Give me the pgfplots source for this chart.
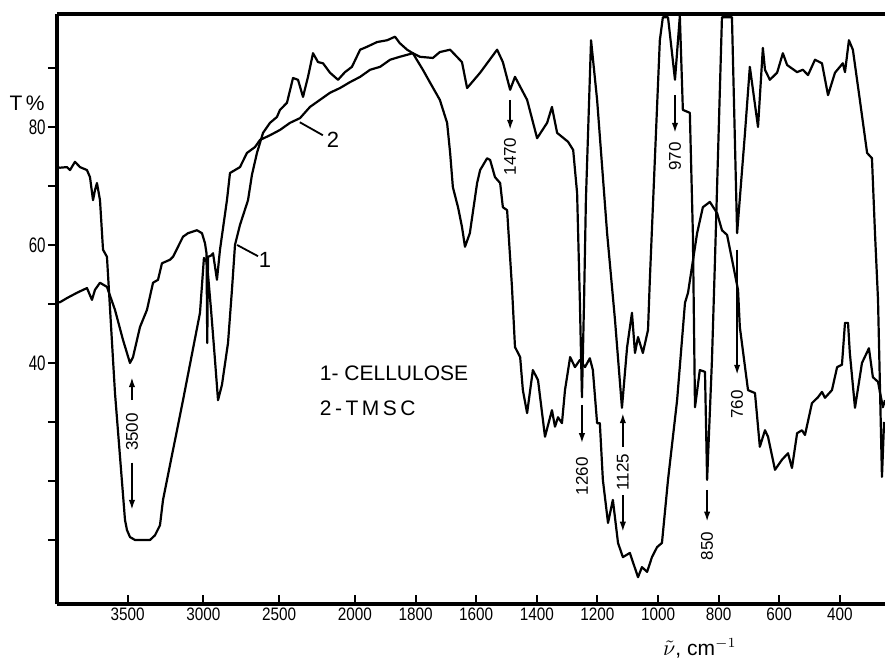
\documentclass[border=0pt]{standalone}
\usepackage{fontspec}
\setmainfont{Liberation Sans}
\newfontfamily\condA[FakeStretch=0.72]{Liberation Sans}
\newfontfamily\condB[FakeStretch=0.85]{Liberation Sans}
\usepackage{pgfplots}
\pgfplotsset{compat=1.18}
\usetikzlibrary{arrows.meta}
\begin{document}
\begin{tikzpicture}
\useasboundingbox (-28.5pt,-28pt) rectangle (414pt,302pt);
\begin{axis}[
  at={(0,0)}, anchor=south west,
  scale only axis, width=414pt, height=295pt,
  xmin=251, xmax=2983.4, ymin=-0.85, ymax=99.15,
  x dir=reverse,
  axis x line*=bottom, axis y line*=left,
  axis line style={-, line width=2pt},
  x filter/.expression={x>2000 ? 2000+(x-2000)/2 : x},
  xtick={2750,2500,2250,2000,1800,1600,1400,1200,1000,800,600,400},
  xticklabels={3500,3000,2500,2000,1800,1600,1400,1200,1000,800,600,400},
  ytick={40,60,80},
  extra y ticks={10,20,30,50,70,90},
  extra y tick labels={},
  xtick align=inside, ytick align=outside,
  major tick length=4.5pt,
  tick style={line width=1pt, black},
  xticklabel style={font=\condB\fontsize{9}{10}\selectfont, yshift=-1pt, inner ysep=1pt},
  yticklabel style={font=\condA\fontsize{10.5}{12}\selectfont, inner xsep=1pt},
  /pgf/number format/assume math mode=true,
  clip=false,
]
\draw[line width=2pt] (rel axis cs:0,1) -- (rel axis cs:1,1);
% curve 1: cellulose
\addplot[black, line width=1.1pt, line join=round, no marks] coordinates {
(3967,73.2) (3947,73.1) (3901,73.2) (3881,72.7) (3848,74.1) (3815,73.2) (3769,72.7) (3749,71.5) (3729,67.6) (3716,69.3) (3703,70.5) (3683,67.6) (3663,59.2) (3637,58.0) (3584,34.9) (3518,13.4) (3505,11.7) (3485,10.5) (3452,10.0) (3353,10.0) (3320,10.8) (3287,12.5) (3267,16.8) (3135,33.7) (3023,48.5) (2997,57.8) (2977,57.1) (2950,49.0) (2924,40.5) (2904,33.7) (2878,36.3) (2838,43.4) (2812,52.4) (2792,60.0) (2759,63.4) (2706,67.6) (2680,71.9) (2647,75.6) (2607,79.0) (2561,80.7) (2515,81.7) (2495,82.9) (2449,84.1) (2409,88.3) (2376,88.0) (2343,85.1) (2310,88.5) (2277,92.5) (2244,91.0) (2211,90.8) (2165,89.2) (2112,88.0) (2066,89.3) (2020,90.2) (1983,93.1) (1960,93.6) (1927,94.4) (1894,94.7) (1868,95.3) (1852,94.2) (1828,93.1) (1809,92.5) (1776,89.7) (1752,87.5) (1720,84.6) (1696,80.7) (1686,75.6) (1677,69.8) (1660,66.4) (1647,63.1) (1637,59.7) (1621,62.0) (1597,70.5) (1587,72.7) (1564,74.7) (1554,74.4) (1538,71.5) (1521,70.5) (1512,66.4) (1498,65.9) (1482,52.9) (1472,42.7) (1455,41.0) (1446,35.4) (1432,31.5) (1413,38.8) (1396,37.1) (1373,27.5) (1350,32.0) (1340,29.2) (1330,30.8) (1317,29.8) (1307,35.4) (1290,41.0) (1274,39.3) (1258,40.5) (1241,39.3) (1225,40.8) (1215,38.8) (1201,29.8) (1192,29.8) (1182,20.2) (1165,12.9) (1149,16.8) (1132,9.5) (1116,7.1) (1093,7.8) (1066,3.7) (1053,5.4) (1036,4.6) (1020,7.1) (1003,8.8) (987,9.5) (967,20.2) (937,33.7) (911,50.2) (901,51.9) (871,62.0) (852,66.4) (829,67.3) (805,65.4) (789,62.5) (772,61.7) (736,52.4) (730,46.1) (703,35.4) (680,34.9) (664,25.8) (647,28.6) (637,27.5) (614,21.9) (591,23.6) (571,24.7) (558,22.2) (541,28.1) (525,28.6) (515,27.8) (492,33.2) (472,34.2) (459,35.1) (449,34.1) (426,35.4) (409,39.3) (393,39.7) (383,46.8) (373,46.8) (367,41.7) (350,32.4) (327,40.0) (304,42.5) (291,37.6) (274,36.8) (258,32.5) (251,33.7)
};
% curve 2: TMSC
\addplot[black, line width=1.1pt, line join=round, no marks] coordinates {
(3967,50.3) (3947,50.3) (3901,51.0) (3835,51.9) (3769,52.7) (3736,50.7) (3716,52.4) (3683,53.6) (3637,52.9) (3584,49.0) (3531,43.9) (3485,40.0) (3465,41.0) (3419,46.1) (3373,49.0) (3333,53.6) (3300,54.1) (3274,56.9) (3221,57.5) (3201,58.0) (3168,59.7) (3135,61.4) (3102,62.0) (3043,62.5) (3010,62.0) (2990,60.3) (2980,58.6) (2975,43.4) (2970,58.0) (2950,58.2) (2937,58.6) (2911,54.1) (2891,59.2) (2845,67.6) (2825,72.2) (2759,73.2) (2713,75.6) (2660,76.6) (2627,77.8) (2561,78.6) (2495,79.5) (2429,80.7) (2363,81.5) (2297,83.4) (2231,84.6) (2165,85.8) (2099,86.6) (2033,87.6) (1983,88.5) (1950,89.7) (1917,90.2) (1884,91.4) (1852,91.9) (1809,92.5) (1786,91.9) (1743,91.7) (1720,92.7) (1686,93.1) (1647,91.0) (1630,86.6) (1587,89.2) (1531,93.1) (1512,91.0) (1488,86.3) (1472,88.5) (1432,84.6) (1399,78.1) (1366,80.7) (1350,83.4) (1333,79.0) (1297,77.5) (1280,76.1) (1267,68.8) (1258,50.7) (1251,34.2) (1244,50.7) (1238,67.6) (1221,94.7) (1201,84.6) (1168,62.0) (1142,47.3) (1119,32.4) (1102,42.7) (1086,48.5) (1076,41.7) (1066,44.4) (1050,41.7) (1033,45.6) (1027,54.1) (994,94.7) (984,98.6) (967,98.6) (944,88.0) (928,98.8) (918,82.9) (895,82.4) (885,62.0) (878,32.5) (862,38.8) (845,38.5) (838,20.2) (822,40.5) (812,57.5) (789,98.6) (756,98.6) (739,62.0) (713,79.0) (697,90.2) (670,80.0) (654,93.4) (647,89.7) (631,88.0) (607,89.2) (588,92.5) (574,90.5) (541,89.3) (522,89.7) (505,88.8) (482,91.4) (459,90.8) (439,85.4) (416,89.2) (390,90.8) (383,89.3) (370,94.7) (357,93.1) (334,84.6) (310,75.6) (294,74.7) (284,62.0) (274,50.7) (261,20.7) (254,30.0)
};
% labels
\node[font=\fontsize{10.5}{12}\selectfont] at (axis cs:3082,84.1) {T\,\%};
\node[font=\fontsize{10.5}{12}\selectfont, inner sep=0pt] at (axis cs:862,-8.4) {$\tilde{\nu}$, cm$^{-1}$};
\node[anchor=west, font=\fontsize{10.5}{12}\selectfont] at (axis cs:2139,38.3) {1- CELLULOSE};
\node[anchor=west, font=\fontsize{10.5}{12}\selectfont] at (axis cs:2139,32.4) {2\,-\,T\,M\,S\,C};
\node[font=\fontsize{11}{13}\selectfont] at (axis cs:2297,57.5) {1};
\draw[line width=0.9pt] (axis cs:2389,60) -- (axis cs:2320,58.1);
\node[font=\fontsize{11}{13}\selectfont] at (axis cs:2073,77.8) {2};
\draw[line width=0.9pt] (axis cs:2182,80.8) -- (axis cs:2106,78.6);
% band annotations
\tikzset{arr/.style={line width=0.9pt, -{Latex[length=5pt,width=3.2pt]}}, lab/.style={rotate=90, font=\fontsize{8.5}{10}\selectfont, inner sep=0.5pt}}
\draw[arr] (axis cs:2736,33.7) -- (axis cs:2736,37.6);
\node[lab] at (axis cs:2736,28.3) {3500};
\draw[arr] (axis cs:2736,23.1) -- (axis cs:2736,15.1);
\draw[arr] (axis cs:1488,84.6) -- (axis cs:1488,79.5);
\node[lab] at (axis cs:1488,75.0) {1470};
\draw[arr] (axis cs:944,85.4) -- (axis cs:944,79.0);
\node[lab] at (axis cs:944,75.0) {970};
\draw[arr] (axis cs:1251,32.9) -- (axis cs:1251,26.4);
\node[lab] at (axis cs:1251,20.8) {1260};
\draw[arr] (axis cs:1116,25.8) -- (axis cs:1116,31.5);
\node[lab] at (axis cs:1116,21.5) {1125};
\draw[arr] (axis cs:1116,17.6) -- (axis cs:1116,11.4);
\draw[arr] (axis cs:838,18.5) -- (axis cs:838,13.1);
\node[lab] at (axis cs:838,9.0) {850};
\draw[arr] (axis cs:739,59.2) -- (axis cs:739,38.0);
\node[lab] at (axis cs:739,33.0) {760};
\end{axis}
\end{tikzpicture}
\end{document}
